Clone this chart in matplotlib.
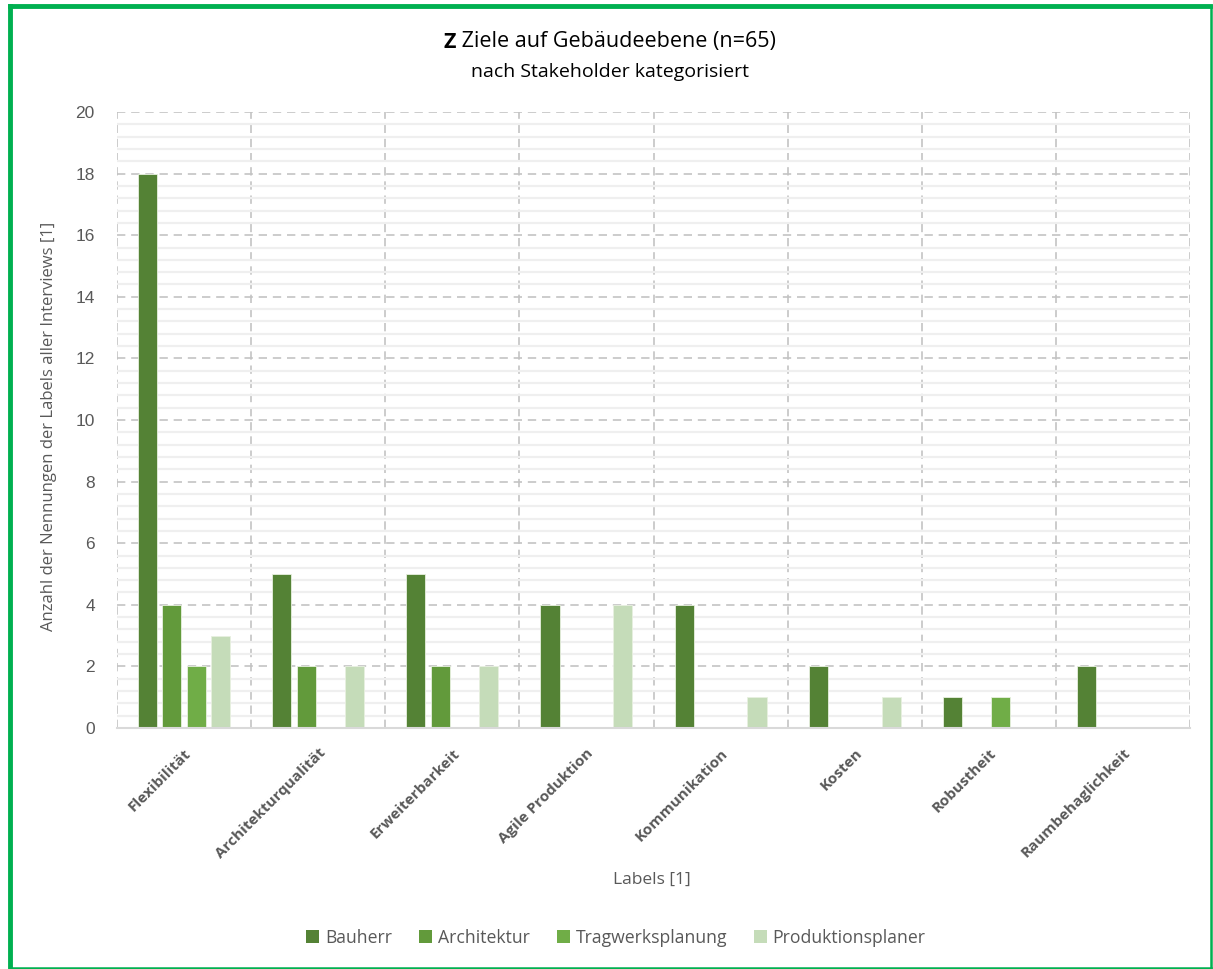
import numpy as np
import matplotlib.pyplot as plt
from matplotlib.lines import Line2D
from matplotlib.patches import Patch
from matplotlib.ticker import MultipleLocator

categories = ["Flexibilität", "Architekturqualität", "Erweiterbarkeit", "Agile Produktion",
              "Kommunikation", "Kosten", "Robustheit", "Raumbehaglichkeit"]
series_names = ["Bauherr", "Architektur", "Tragwerksplanung", "Produktionsplaner"]
bauherr = [18, 5, 5, 4, 4, 2, 1, 2]
architektur = [4, 2, 2, 0, 0, 0, 0, 0]
tragwerksplanung = [2, 0, 0, 0, 0, 0, 1, 0]
produktionsplaner = [3, 2, 2, 4, 1, 1, 0, 0]
series_values = [bauherr, architektur, tragwerksplanung, produktionsplaner]
colors = ["#548235", "#629A3B", "#70AD47", "#C5DCB9"]

W, H = 1213, 969
fig = plt.figure(figsize=(W / 100, H / 100), dpi=100)
ax = fig.add_axes([117 / W, 1 - 728 / H, (1190 - 117) / W, (728 - 112) / H])

x = np.arange(len(categories))
bar_w = 0.142
step = 0.181
for i, (name, vals) in enumerate(zip(series_names, series_values)):
    offs = (i - 1.5) * step
    ax.bar(x + offs, vals, width=bar_w, color=colors[i], edgecolor="#E8F0E0",
           linewidth=0.6, zorder=3, label=name)

ax.set_xlim(-0.5, len(categories) - 0.5)
ax.set_ylim(0, 20)

# grid: minor solid lines, major dashed, dashed category separators
dash = (0, (5, 3.5))
ax.yaxis.set_major_locator(MultipleLocator(2))
ax.yaxis.set_minor_locator(MultipleLocator(0.4))
ax.grid(which="minor", axis="y", color="#EFEFEF", linewidth=1.6, linestyle="-", zorder=0)
ax.grid(which="major", axis="y", color="#C3C3C3", linewidth=1.2, linestyle=dash, zorder=1)
for b in np.arange(-0.5, len(categories), 1.0):
    ax.axvline(b, color="#C3C3C3", linewidth=1.2, linestyle=dash, zorder=1)

for s in ["top", "right", "left"]:
    ax.spines[s].set_visible(False)
ax.spines["bottom"].set_color("#D9D9D9")
ax.spines["bottom"].set_linewidth(1.5)
ax.spines["bottom"].set_zorder(4)

ax.tick_params(axis="both", which="both", length=0)
ax.tick_params(axis="y", labelsize=12.5, labelcolor="#595959", pad=16)
for lab in ax.get_yticklabels():
    lab.set_family("Liberation Sans")

ax.set_xticks(x)
ax.set_xticklabels(categories, rotation=45, ha="right", rotation_mode="anchor",
                   fontsize=11, fontweight="bold", color="#595959", family="Open Sans")
ax.tick_params(axis="x", pad=13)

ax.set_ylabel("Anzahl der Nennungen der Labels aller Interviews [1]", fontsize=12,
              color="#595959", family="Open Sans")
ax.yaxis.set_label_coords(-0.056, 0.49)
fig.text(652 / W, 1 - 880 / H, "Labels [1]", ha="center", va="center", fontsize=12.5,
         color="#595959", family="Open Sans")

# title: bold "Z" followed by regular text, centred as a whole
fig.canvas.draw()
r = fig.canvas.get_renderer()
t1 = fig.text(0, 1 - 42 / H, "Z", fontsize=15.5, fontweight="bold", family="Open Sans",
              color="#000000", va="center", ha="left")
t2 = fig.text(0, 1 - 42 / H, " Ziele auf Gebäudeebene (n=65)", fontsize=15.5,
              family="Open Sans", color="#000000", va="center", ha="left")
w1 = t1.get_window_extent(r).width
w2 = t2.get_window_extent(r).width
x0 = 610 - (w1 + w2) / 2
t1.set_x(x0 / W)
t2.set_x((x0 + w1) / W)
fig.text(610 / W, 1 - 72 / H, "nach Stakeholder kategorisiert", ha="center", va="center",
         fontsize=14, family="Open Sans", color="#000000")

handles = [Patch(facecolor=c, edgecolor="none") for c in colors]
fig.legend(handles, series_names, loc="center", bbox_to_anchor=(616 / W, 1 - 938 / H),
           ncol=4, frameon=False, handlelength=0.75, handleheight=0.75,
           handletextpad=0.3, columnspacing=1.55, labelcolor="#595959",
           prop={"family": "Open Sans", "size": 12.7})

# green frame
frame_c = "#00B050"
fig.add_artist(Line2D([10 / W, 1210 / W], [1 - 6 / H, 1 - 6 / H], transform=fig.transFigure,
                      color=frame_c, linewidth=3.5))
fig.add_artist(Line2D([10 / W, 10 / W], [1 - 6 / H, 1 - 968 / H], transform=fig.transFigure,
                      color=frame_c, linewidth=3.5))
fig.add_artist(Line2D([1211 / W, 1211 / W], [1 - 6 / H, 1 - 968 / H], transform=fig.transFigure,
                      color=frame_c, linewidth=1.8))
fig.add_artist(Line2D([10 / W, 1211 / W], [1 - 968 / H, 1 - 968 / H], transform=fig.transFigure,
                      color=frame_c, linewidth=1.8))

fig.savefig("out.png", dpi=100, facecolor="white")
